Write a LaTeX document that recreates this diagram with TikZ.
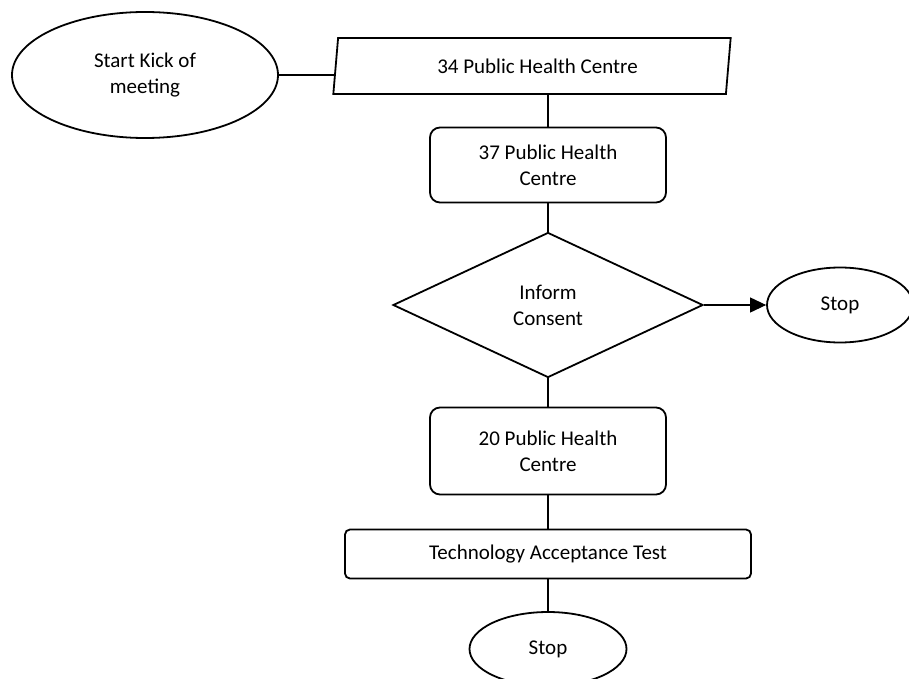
\documentclass[tikz,border=0pt]{standalone}
\usepackage{fontspec}
\setmainfont{Carlito}
\usetikzlibrary{shapes.geometric,arrows.meta}
\begin{document}
\begin{tikzpicture}[x=1pt,y=-1pt,
  every node/.style={font=\fontsize{21}{26}\selectfont, align=center},
  shapeline/.style={draw, line width=1.8pt, inner sep=0pt},
  oval/.style={shapeline, ellipse},
  stepbox/.style={shapeline, rectangle, rounded corners=10pt},
  link/.style={line width=1.1pt}]
\useasboundingbox (0,0) rectangle (909,679);

\node[oval, minimum width=266pt, minimum height=126pt] (start) at (145,75) {Start Kick of\\meeting};
\node[shapeline, trapezium, trapezium left angle=80, trapezium right angle=100,
  trapezium stretches=true, minimum width=398pt, minimum height=56pt] (p34) at (532,66) {\hspace*{11pt}34 Public Health Centre};
\node[stepbox, minimum width=236pt, minimum height=75pt] (b37) at (548,165) {37 Public Health\\Centre};
\node[shapeline, diamond, minimum width=310pt, minimum height=145pt] (inform) at (548,305) {Inform\\Consent};
\node[oval, minimum width=146pt, minimum height=75pt] (stop1) at (840,305) {Stop};
\node[stepbox, minimum width=236pt, minimum height=87pt] (b20) at (548,451) {20 Public Health\\Centre};
\node[stepbox, rounded corners=5pt, minimum width=406pt, minimum height=49pt] (tat) at (548,554) {Technology Acceptance Test};
\node[oval, minimum width=157pt, minimum height=74pt] (stop2) at (548,649) {Stop};

\draw[link] (start.east) -- (p34.west |- start.east);
\draw[link] (b37.north |- p34.south) -- (b37.north);
\draw[link] (b37.south) -- (inform.north);
\draw[link, -{Triangle[length=16pt,width=15pt]}] (inform.east) -- (stop1.west);
\draw[link] (inform.south) -- (b20.north);
\draw[link] (b20.south) -- (tat.north);
\draw[link] (tat.south) -- (stop2.north);
\end{tikzpicture}
\end{document}
